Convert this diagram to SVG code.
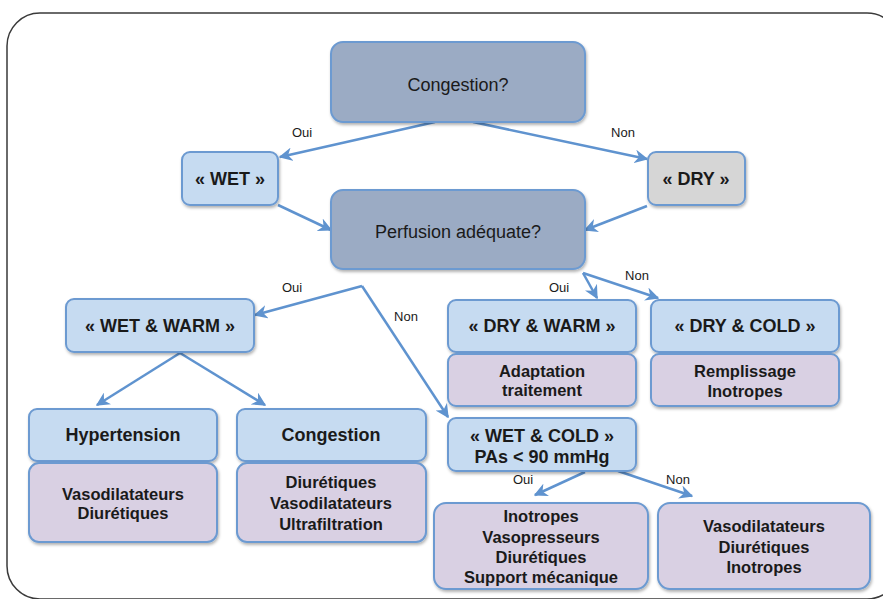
<svg xmlns="http://www.w3.org/2000/svg" width="883" height="599" viewBox="0 0 883 599">
<defs>
<filter id="sh" x="-10%" y="-10%" width="130%" height="140%">
<feDropShadow dx="1" dy="2" stdDeviation="1.5" flood-color="#000" flood-opacity="0.3"/>
</filter>
<marker id="ar" viewBox="0 0 10 10" refX="9" refY="5" markerWidth="5.5" markerHeight="5.5" orient="auto" markerUnits="strokeWidth">
<path d="M0,0 L10,5 L0,10 L3,5 Z" fill="#5f93cf"/>
</marker>
</defs>
<style>
.box{stroke:#6c9ad1;stroke-width:2;filter:url(#sh)}
.dk{fill:#9babc4}
.lb{fill:#c6dbf1}
.pu{fill:#d9d0e3}
.gr{fill:#d6d6d6}
text{font-family:"Liberation Sans",Arial,sans-serif;fill:#1a1a1a;text-anchor:middle}
.h{font-size:18px;font-weight:bold}
.q{font-size:18px}
.t{font-size:16.5px;font-weight:bold}
.l{font-size:13px}
.c line{stroke:#5f93cf;stroke-width:2.5;marker-end:url(#ar)}
</style>
<rect x="7" y="13" width="893" height="586" rx="33" fill="#fff" stroke="#3a3a3a" stroke-width="1.5"/>
<g class="c">
<line x1="435" y1="122" x2="280" y2="157"/>
<line x1="473" y1="122" x2="647" y2="159"/>
<line x1="278" y1="205" x2="331" y2="230"/>
<line x1="647" y1="206" x2="585" y2="230"/>
<line x1="362" y1="286" x2="255" y2="315"/>
<line x1="362" y1="286" x2="448" y2="417"/>
<line x1="583" y1="273" x2="597" y2="298"/>
<line x1="583" y1="273" x2="658" y2="298"/>
<line x1="180" y1="353" x2="97" y2="405"/>
<line x1="180" y1="353" x2="265" y2="405"/>
<line x1="585" y1="472" x2="535" y2="495"/>
<line x1="618" y1="471" x2="692" y2="496"/>
</g>
<g id="labels">
<text class="l" x="302" y="137">Oui</text>
<text class="l" x="623" y="137">Non</text>
<text class="l" x="292" y="292">Oui</text>
<text class="l" x="406" y="321">Non</text>
<text class="l" x="559" y="292">Oui</text>
<text class="l" x="637" y="280">Non</text>
<text class="l" x="523" y="484">Oui</text>
<text class="l" x="678" y="484">Non</text>
</g>
<g id="congestion-q"><rect class="box dk" x="331" y="42" width="254" height="80" rx="12"/><text class="q" x="458" y="91">Congestion?</text></g>
<g id="wet"><rect class="box lb" x="182" y="152" width="96" height="53" rx="8"/><text class="h" x="230" y="185">« WET »</text></g>
<g id="dry"><rect class="box gr" x="648" y="152" width="97" height="53" rx="8"/><text class="h" x="696" y="185">« DRY »</text></g>
<g id="perfusion"><rect class="box dk" x="331" y="190" width="254" height="79" rx="12"/><text class="q" x="458" y="238">Perfusion adéquate?</text></g>
<g id="wet-warm"><rect class="box lb" x="66" y="299" width="188" height="53" rx="8"/><text class="h" x="160" y="332">« WET &amp; WARM »</text></g>
<g id="dry-warm"><rect class="box lb" x="448" y="300" width="188" height="52" rx="8"/><text class="h" x="542" y="332">« DRY &amp; WARM »</text></g>
<g id="dry-cold"><rect class="box lb" x="651" y="300" width="188" height="52" rx="8"/><text class="h" x="745" y="332">« DRY &amp; COLD »</text></g>
<g id="adaptation"><rect class="box pu" x="448" y="354" width="188" height="52" rx="8"/><text class="t" x="542" y="377">Adaptation</text><text class="t" x="542" y="396">traitement</text></g>
<g id="remplissage"><rect class="box pu" x="651" y="354" width="188" height="52" rx="8"/><text class="t" x="745" y="377">Remplissage</text><text class="t" x="745" y="397">Inotropes</text></g>
<g id="hypertension"><rect class="box lb" x="29" y="409" width="188" height="52" rx="8"/><text class="h" x="123" y="441">Hypertension</text></g>
<g id="congestion"><rect class="box lb" x="237" y="409" width="189" height="52" rx="8"/><text class="h" x="331" y="441">Congestion</text></g>
<g id="hyp-tx"><rect class="box pu" x="29" y="463" width="188" height="79" rx="10"/><text class="t" x="123" y="500">Vasodilatateurs</text><text class="t" x="123" y="519">Diurétiques</text></g>
<g id="cong-tx"><rect class="box pu" x="237" y="463" width="189" height="79" rx="10"/><text class="t" x="331" y="488">Diurétiques</text><text class="t" x="331" y="509">Vasodilatateurs</text><text class="t" x="331" y="530">Ultrafiltration</text></g>
<g id="wet-cold"><rect class="box lb" x="448" y="418" width="188" height="53" rx="8"/><text class="h" x="542" y="442">« WET &amp; COLD »</text><text class="h" x="542" y="463">PAs &lt; 90 mmHg</text></g>
<g id="oui-tx"><rect class="box pu" x="434" y="503" width="214" height="86" rx="12"/><text class="t" x="541" y="522">Inotropes</text><text class="t" x="541" y="543">Vasopresseurs</text><text class="t" x="541" y="563">Diurétiques</text><text class="t" x="541" y="583">Support mécanique</text></g>
<g id="non-tx"><rect class="box pu" x="658" y="503" width="212" height="86" rx="12"/><text class="t" x="764" y="532">Vasodilatateurs</text><text class="t" x="764" y="553">Diurétiques</text><text class="t" x="764" y="573">Inotropes</text></g>
</svg>
